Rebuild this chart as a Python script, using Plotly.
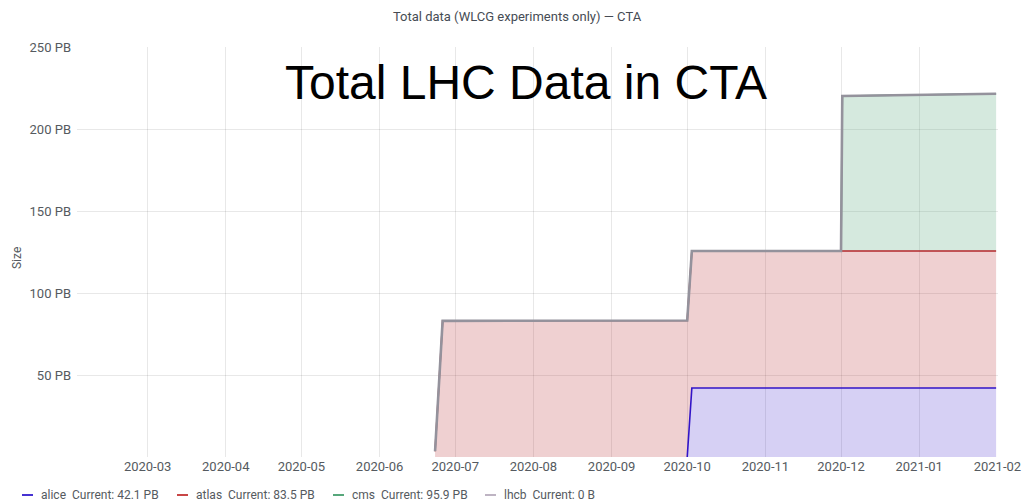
import plotly.graph_objects as go

# ---- data (PB) ----
dates = ["2020-06-23", "2020-06-26", "2020-10-01", "2020-10-02 20:00",
         "2020-12-01", "2020-12-01 12:00", "2021-01-31 12:00"]
alice = [None, None, 0, 42.1, 42.1, 42.1, 42.1]
atlas = [3.5, 83.0, 83.2, 83.5, 83.5, 83.5, 83.5]
cms = [None, None, None, None, 0, 94.5, 95.9]
lhcb = [0, 0, 0, 0, 0, 0, 0]

series_names = ["alice", "atlas", "cms", "lhcb"]
series_vals = [alice, atlas, cms, lhcb]
current_labels = ["42.1 PB", "83.5 PB", "95.9 PB", "0 B"]

y_tick_vals = [50, 100, 150, 200, 250]
y_tick_text = ["50 PB", "100 PB", "150 PB", "200 PB", "250 PB"]
x_tick_vals = ["2020-03-01", "2020-04-01", "2020-05-01", "2020-06-01", "2020-07-01",
               "2020-08-01", "2020-09-01", "2020-10-01", "2020-11-01", "2020-12-01",
               "2021-01-01", "2021-02-01"]
x_tick_text = ["2020-03", "2020-04", "2020-05", "2020-06", "2020-07", "2020-08",
               "2020-09", "2020-10", "2020-11", "2020-12", "2021-01", "2021-02"]

line_colors = ["rgb(50,20,200)", "rgb(180,40,45)", "rgb(87,167,123)", "rgb(148,146,156)"]
fill_colors = ["rgba(50,20,200,0.2)", "rgba(180,40,45,0.22)", "rgba(87,167,123,0.25)", "rgba(148,146,156,0.1)"]
legend_dash_colors = ["rgb(70,50,210)", "rgb(200,70,70)", "rgb(87,167,123)", "rgb(190,180,195)"]
line_widths = [1.6, 1.6, 1.6, 2.6]

# body margin is removed in the page, so figure coordinates = page coordinates
W, H = 1024, 503
P_L, P_R, P_T, P_B = 77, 998, 47, 457          # plot area in page pixels
ML, MR, MT, MB = P_L, W - P_R, P_T, H - P_B
pw = W - ML - MR
ph = H - MT - MB


def px(xp):
    return (xp - P_L) / pw


def py(yp):
    return (P_B - yp) / ph


fig = go.Figure()

# fills (stacked)
for name, vals, fc in zip(series_names, series_vals, fill_colors):
    fig.add_trace(go.Scatter(
        x=dates, y=[v if v is not None else 0 for v in vals],
        stackgroup="one", mode="none", fillcolor=fc,
        name=name, showlegend=False, hoverinfo="skip"))

# lines at cumulative levels
cum = [0.0] * len(dates)
for name, vals, lc, lw in zip(series_names, series_vals, line_colors, line_widths):
    cum = [c + (v if v is not None else 0) for c, v in zip(cum, vals)]
    ys = [cum[i] if v is not None else None for i, v in enumerate(vals)]
    fig.add_trace(go.Scatter(
        x=dates, y=ys, mode="lines", line=dict(color=lc, width=lw),
        name=name, showlegend=False, connectgaps=False))

fig.update_layout(
    width=W, height=H,
    margin=dict(l=ML, r=MR, t=MT, b=MB, autoexpand=False),
    paper_bgcolor="white", plot_bgcolor="white",
    font=dict(family="Roboto, sans-serif", size=12, color="#555a60"),
    showlegend=False,
    title=dict(text="Total data (WLCG experiments only) — CTA",
               x=517 / W, xanchor="center",
               y=1 - 16 / H, yanchor="middle",
               font=dict(family="Roboto, sans-serif", size=13, color="#464c54")),
    xaxis=dict(type="date", range=["2020-02-02", "2021-02-01 06:00"],
               tickmode="array", tickvals=x_tick_vals, ticktext=x_tick_text,
               showgrid=True, gridcolor="rgba(0,0,0,0.09)", gridwidth=1,
               zeroline=False, showline=False, ticks="", automargin=False,
               tickfont=dict(size=13, color="#555a60")),
    yaxis=dict(range=[0, 250], tickmode="array", tickvals=y_tick_vals,
               ticktext=y_tick_text, showgrid=True,
               gridcolor="rgba(0,0,0,0.09)", gridwidth=1,
               zeroline=False, showline=False, ticks="", automargin=False,
               ticklabelstandoff=5,
               tickfont=dict(size=13, color="#555a60")),
)

# axis title "Size"
fig.add_annotation(text="Size", xref="paper", yref="paper",
                   x=px(17), y=py(258), textangle=-90,
                   xanchor="center", yanchor="middle", showarrow=False,
                   font=dict(family="Roboto, sans-serif", size=12, color="#555a60"))

# big overlay title
fig.add_annotation(text="Total LHC Data in CTA", xref="paper", yref="paper",
                   x=px(526), y=py(83),
                   xanchor="center", yanchor="middle", showarrow=False,
                   font=dict(family="Liberation Sans, Arial, sans-serif", size=48, color="black"))

# legend-like row at bottom
legend_x = [22, 177, 333, 485]
for lx, name, cur, dc in zip(legend_x, series_names, current_labels, legend_dash_colors):
    fig.add_shape(type="line", xref="paper", yref="paper",
                  x0=px(lx), x1=px(lx + 11), y0=py(495), y1=py(495),
                  line=dict(color=dc, width=2))
    fig.add_annotation(text=f"{name}&nbsp;&nbsp;Current: {cur}", xref="paper", yref="paper",
                       x=px(lx + 17), y=py(495),
                       xanchor="left", yanchor="middle", showarrow=False,
                       font=dict(family="Roboto, sans-serif", size=12, color="#555a60"))

fig.write_html("out.html",
               config={"displayModeBar": False},
               post_script="document.body.style.margin='0';document.body.style.overflow='hidden';")
